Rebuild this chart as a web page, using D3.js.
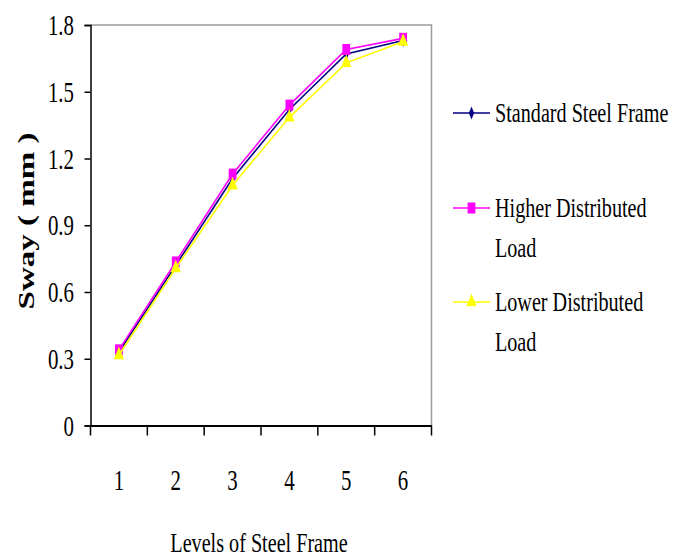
<!DOCTYPE html>
<html>
<head>
<meta charset="utf-8">
<script src="https://cdn.jsdelivr.net/npm/d3@7"></script>
<style>
  body { margin: 0; background: #fff; }
  svg text { font-family: "Liberation Serif", "Times New Roman", serif; fill: #000; }
</style>
</head>
<body>
<svg id="chart" width="686" height="557"></svg>
<script>
var levels = ['1', '2', '3', '4', '5', '6'];
var standardFrame = [0.33, 0.72, 1.11, 1.42, 1.67, 1.73];
var higherLoad = [0.34, 0.735, 1.13, 1.44, 1.69, 1.74];
var lowerLoad = [0.317, 0.707, 1.08, 1.385, 1.63, 1.725];
var yTicks = [0, 0.3, 0.6, 0.9, 1.2, 1.5, 1.8];

var series = [
  { name: ['Standard Steel Frame'], values: standardFrame, color: '#000080', marker: 'diamond' },
  { name: ['Higher Distributed', 'Load'], values: higherLoad, color: '#ff00ff', marker: 'square' },
  { name: ['Lower Distributed', 'Load'], values: lowerLoad, color: '#ffff00', marker: 'triangle' }
];

var squeeze = 0.72; // text in the picture is narrow, like a squeezed Times
var plotLeft = 90.5, plotRight = 431.5, plotTop = 25, plotBottom = 425.5;

var svg = d3.select('#chart');

var x = d3.scaleBand().domain(levels).range([plotLeft, plotRight]);
var y = d3.scaleLinear().domain([0, 1.8]).range([plotBottom, plotTop]);

var symbolTypes = {
  diamond: d3.symbolDiamond,
  square: d3.symbolSquare,
  triangle: d3.symbolTriangle
};
var symbolSizes = { diamond: 40, square: 100, triangle: 75 };
var markerScale = ' scale(0.78,1.1)'; // markers look squeezed too

// plot frame (top & right grey)
svg.append('path')
  .attr('d', 'M' + plotLeft + ',' + plotTop + 'H' + plotRight + 'V' + plotBottom)
  .attr('fill', 'none')
  .attr('stroke', '#9a9a9a')
  .attr('stroke-width', 1.5);

// y axis
var yAxis = svg.append('g')
  .attr('transform', 'translate(' + plotLeft + ',0)')
  .call(d3.axisLeft(y).tickValues(yTicks).tickSize(6).tickFormat(function (d) { return String(d); }));
yAxis.select('.domain').attr('stroke', '#000').attr('stroke-width', 1.5);
yAxis.selectAll('.tick line').attr('stroke', '#000').attr('stroke-width', 1.5);
yAxis.selectAll('.tick text').remove();

yTicks.forEach(function (t) {
  svg.append('text')
    .attr('transform', 'translate(74,' + y(t) + ') scale(' + squeeze + ',1)')
    .attr('text-anchor', 'end')
    .attr('dy', '0.35em')
    .attr('font-size', 29)
    .text(String(t));
});

// x axis
var xAxis = svg.append('g')
  .attr('transform', 'translate(0,' + plotBottom + ')')
  .call(d3.axisBottom(x).tickSize(0).tickFormat(''));
xAxis.select('.domain').attr('stroke', '#000').attr('stroke-width', 2);

var boundaries = levels.map(function (c) { return x(c); }).concat([x.range()[1]]);
svg.append('g').selectAll('line')
  .data(boundaries)
  .join('line')
  .attr('x1', function (d) { return d; })
  .attr('x2', function (d) { return d; })
  .attr('y1', plotBottom)
  .attr('y2', plotBottom + 10)
  .attr('stroke', '#000')
  .attr('stroke-width', 1.5);

levels.forEach(function (c) {
  svg.append('text')
    .attr('transform', 'translate(' + (x(c) + x.bandwidth() / 2) + ',490) scale(' + squeeze + ',1)')
    .attr('text-anchor', 'middle')
    .attr('font-size', 29)
    .text(c);
});

// axis titles
svg.append('text')
  .attr('transform', 'translate(259,552) scale(' + squeeze + ',1)')
  .attr('text-anchor', 'middle')
  .attr('font-size', 28)
  .text('Levels of Steel Frame');

svg.append('text')
  .attr('transform', 'translate(34,221) rotate(-90) scale(1,' + squeeze + ')')
  .attr('text-anchor', 'middle')
  .attr('font-size', 33)
  .attr('font-weight', 'bold')
  .text('Sway ( mm )');

// lines and markers
var line = d3.line()
  .x(function (d, i) { return x(levels[i]) + x.bandwidth() / 2; })
  .y(function (d) { return y(d); });

series.forEach(function (s) {
  var g = svg.append('g');
  g.append('path')
    .attr('d', line(s.values))
    .attr('fill', 'none')
    .attr('stroke', s.color)
    .attr('stroke-width', 1.6);
  g.selectAll('path.marker')
    .data(s.values)
    .join('path')
    .attr('class', 'marker')
    .attr('transform', function (d, i) {
      return 'translate(' + (x(levels[i]) + x.bandwidth() / 2) + ',' + y(d) + ')' + markerScale;
    })
    .attr('d', d3.symbol().type(symbolTypes[s.marker]).size(symbolSizes[s.marker]))
    .attr('fill', s.color);
});

// legend
var legendY = [113, 208, 302];
series.forEach(function (s, i) {
  var g = svg.append('g').attr('transform', 'translate(0,' + legendY[i] + ')');
  g.append('line')
    .attr('x1', 453).attr('x2', 490)
    .attr('y1', 0).attr('y2', 0)
    .attr('stroke', s.color)
    .attr('stroke-width', 1.6);
  g.append('path')
    .attr('transform', 'translate(471.5,0)' + markerScale)
    .attr('d', d3.symbol().type(symbolTypes[s.marker]).size(symbolSizes[s.marker]))
    .attr('fill', s.color);
  s.name.forEach(function (t, j) {
    g.append('text')
      .attr('transform', 'translate(495,' + (j * 40) + ') scale(' + squeeze + ',1)')
      .attr('dy', '0.32em')
      .attr('font-size', 28)
      .text(t);
  });
});
</script>
</body>
</html>
